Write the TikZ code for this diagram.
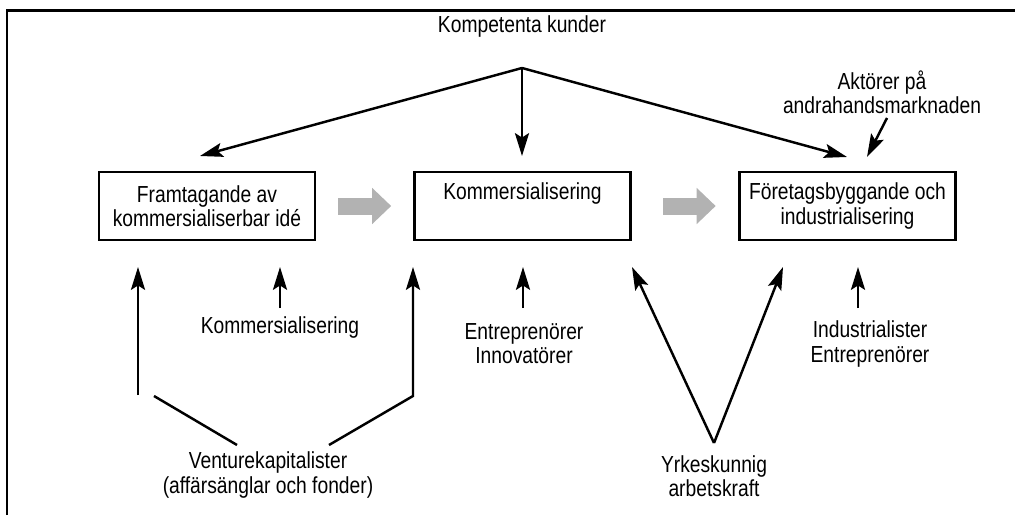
\documentclass[tikz,border=0pt]{standalone}
\usepackage{fontspec}
\setmainfont[FakeStretch=0.83]{Liberation Sans}
\usetikzlibrary{arrows.meta}

\begin{document}
\begin{tikzpicture}[->, >={Stealth[length=13pt,width=8pt,inset=2.5pt]}, line width=1.4pt, font=\fontsize{13.2}{13.8}\selectfont]
   \useasboundingbox (0,0) rectangle (20.3,10.3);
   \tikzstyle{stage}=[draw=black, line width=1.5pt, minimum width=4.32cm, minimum height=1.36cm, align=center, inner sep=0pt]
   \tikzstyle{flow}=[draw=black!30, line width=0.34cm, -{Triangle[length=0.38cm,width=0.7cm]}]
   \draw[-, line width=1.2pt] (0.14,0) -- (0.14,10.09) -- (20.3,10.09);
   % the three stages
   \node[stage] (idea) at (4.14,6.18) {Framtagande av\\kommersialiserbar idé};
   \node[stage] (comm) at (10.45,6.18) {Kommersialisering\\\phantom{g}};
   \node[stage] (build) at (16.95,6.18) {Företagsbyggande och\\industrialisering};
   \path (idea) edge[flow, shorten <=0.44cm, shorten >=0.44cm] (comm);
   \path (comm) edge[flow, shorten <=0.63cm, shorten >=0.45cm] (build);
   % customers
   \node (kunder) at (10.44,9.77) {Kompetenta kunder};
   \coordinate (hub) at (10.44,8.94);
   \coordinate (kIdea) at (4.0,7.18);
   \coordinate (kComm) at (10.44,7.18);
   \coordinate (kBuild) at (16.94,7.16);
   \foreach \t in {kIdea,kComm,kBuild}
       \path (hub) edge (\t);
   \node[align=center] (second) at (17.64,8.46) {Aktörer på\\andrahandsmarknaden};
   \coordinate (sTail) at (17.74,7.94);
   \coordinate (sTip) at (17.34,7.16);
   \path (sTail) edge (sTip);
   % actors below
   \node (kommlab) at (5.6,3.74) {Kommersialisering};
   \node[align=center] (entre) at (10.48,3.42) {Entreprenörer\\Innovatörer};
   \node[align=center] (indu) at (17.4,3.42) {Industrialister\\Entreprenörer};
   \foreach \n/\x in {a/5.6,b/10.46,c/17.16} {
       \coordinate (up\n) at (\x,4.14);
       \coordinate (tip\n) at (\x,4.96);
       \path (up\n) edge (tip\n);
   }
   \node[align=center] (venture) at (5.36,0.8) {Venturekapitalister\\(affärsänglar och fonder)};
   \coordinate (vL) at (2.76,2.4);
   \coordinate (vLtip) at (2.76,4.96);
   \path (vL) edge (vLtip);
   \coordinate (vA) at (3.08,2.38);
   \coordinate (vB) at (4.74,1.4);
   \draw[-] (vA) -- (vB);
   \coordinate (vC) at (6.58,1.4);
   \coordinate (vD) at (8.26,2.38);
   \coordinate (vRtip) at (8.26,4.96);
   \draw (vC) -- (vD) -- (vRtip);
   \node[align=center] (yrke) at (14.28,0.78) {Yrkeskunnig\\arbetskraft};
   \coordinate (yV) at (14.28,1.44);
   \coordinate (yL) at (12.64,4.96);
   \coordinate (yR) at (15.66,4.96);
   \path (yV) edge (yL) edge (yR);
\end{tikzpicture}
\end{document}
